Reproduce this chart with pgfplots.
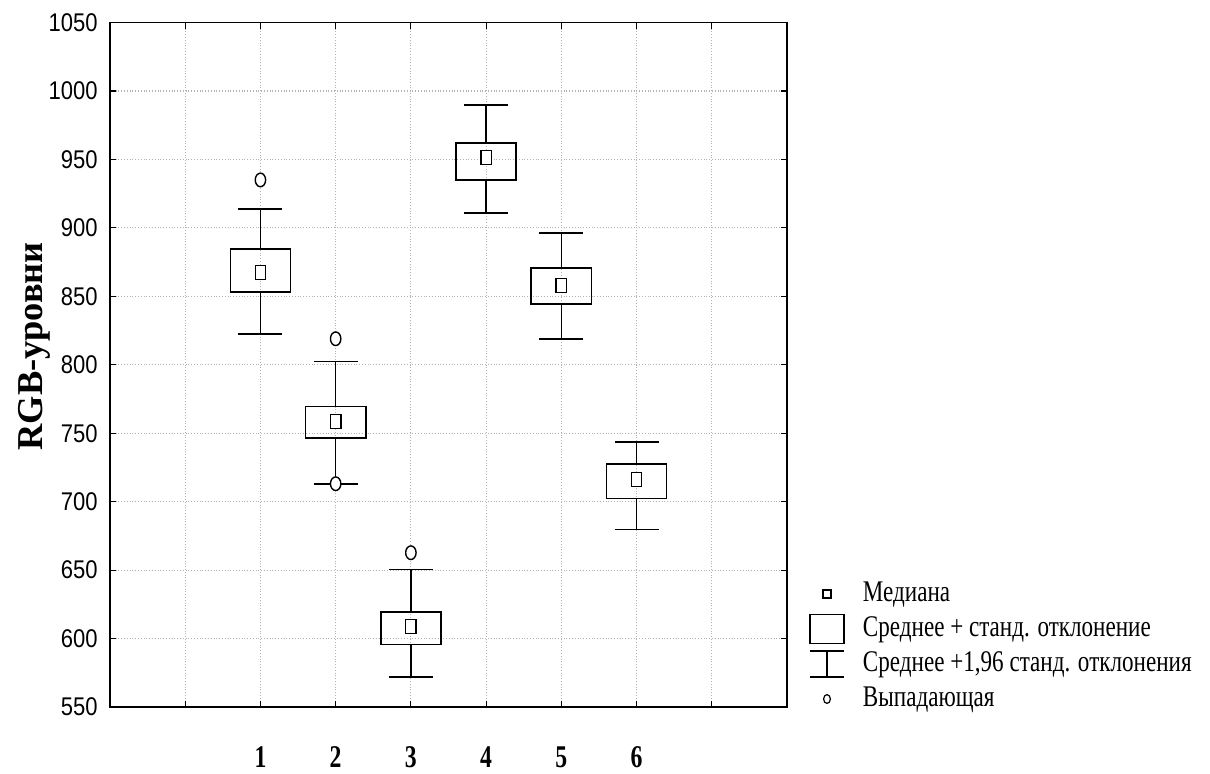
\documentclass[border=0pt]{standalone}
\usepackage{fontspec}
\setmainfont{Liberation Serif}
\newfontfamily\ytickfont[FakeStretch=0.86]{Liberation Sans}
\newfontfamily\xtickfont[FakeStretch=0.75]{Liberation Serif}
\newfontfamily\legendfont[FakeStretch=0.77]{Liberation Serif}
\usepackage{pgfplots}
\pgfplotsset{compat=1.18}
\usepgfplotslibrary{statistics}

% upright rectangle for the median, oval for an outlier
\pgfdeclareplotmark{medbox}{%
  \pgfpathrectangle{\pgfpoint{-2.6pt}{-3.5pt}}{\pgfpoint{5.2pt}{7pt}}%
  \pgfusepathqfillstroke}
\pgfdeclareplotmark{oval}{%
  \pgfpathellipse{\pgfpointorigin}{\pgfpoint{2.6pt}{0pt}}{\pgfpoint{0pt}{3.4pt}}%
  \pgfusepathqfillstroke}

% medians of the six groups
\pgfplotstableread{
x   med
1   867.4
2   758.6
3   608.9
4   951.6
5   857.9
6   716.1
}\medians

% outlying observations
\pgfplotstableread{
x   y
1   935.0
2   819.0
2   713.1
3   662.7
}\outliers

\pgfplotsset{
  boxstyle/.style={black, line width=0.8pt, forget plot,
    boxplot/draw direction=y,
    boxplot/draw/median/.code={},
    boxplot/box extend=0.8, boxplot/whisker extend=0.585},
}

\begin{document}
\begin{tikzpicture}
\begin{axis}[
  at={(0,0)}, anchor=south west,
  scale only axis,
  width=338.5pt, height=342.25pt,
  xmin=-1, xmax=8,
  ymin=550, ymax=1050,
  xtick={0,...,7},
  xticklabels={{},1,2,3,4,5,6,{}},
  ytick={550,600,...,1050},
  grid=major,
  major grid style={densely dotted, gray!60, line width=0.6pt},
  axis line style={line width=0.9pt},
  tick align=inside,
  major tick length=3pt,
  tick style={black, line width=0.6pt},
  /pgf/number format/assume math mode=true,
  /pgf/number format/1000 sep={},
  yticklabel style={font=\ytickfont\fontsize{12.8}{14}\selectfont, inner sep=0pt, xshift=-6pt},
  xticklabel style={font=\xtickfont\bfseries\fontsize{15.8}{17}\selectfont, inner sep=0pt, yshift=-19.5pt},
  ylabel={RGB-уровни},
  ylabel style={font=\bfseries\fontsize{18.2}{22}\selectfont,
    at={(rel axis cs:-0.1115,0.527)}, anchor=center},
  legend cell align=left,
  legend style={at={(rel axis cs:1,0.1855)}, anchor=north west, xshift=11.5pt,
    draw=none, fill=none, inner sep=0pt, outer sep=0pt,
    row sep=3.5pt, column sep=0pt,
    nodes={inner sep=0pt, text height=10.5pt, text depth=3.5pt},
    font=\legendfont\fontsize{15}{18}\selectfont},
]

% boxes: mean +- SD, whiskers: mean +- 1.96 SD
\addplot[boxstyle, boxplot prepared={draw position=1, lower whisker=822.6, lower quartile=853.1,
  median=867.4, upper quartile=884.4, upper whisker=913.6}] coordinates {};
\addplot[boxstyle, boxplot prepared={draw position=2, lower whisker=713.1, lower quartile=746.5,
  median=758.6, upper quartile=769.6, upper whisker=802.4}] coordinates {};
\addplot[boxstyle, boxplot prepared={draw position=3, lower whisker=571.8, lower quartile=595.6,
  median=608.9, upper quartile=619.5, upper whisker=650.4}] coordinates {};
\addplot[boxstyle, boxplot prepared={draw position=4, lower whisker=910.7, lower quartile=935.0,
  median=951.6, upper quartile=961.8, upper whisker=989.8}] coordinates {};
\addplot[boxstyle, boxplot prepared={draw position=5, lower whisker=818.8, lower quartile=844.3,
  median=857.9, upper quartile=870.6, upper whisker=896.1}] coordinates {};
\addplot[boxstyle, boxplot prepared={draw position=6, lower whisker=679.6, lower quartile=702.2,
  median=716.1, upper quartile=727.7, upper whisker=743.6}] coordinates {};

% medians
\addplot[only marks, forget plot, mark=medbox,
  mark options={draw=black, fill=white, line width=0.7pt}] table[x=x, y=med] {\medians};
% outliers
\addplot[only marks, forget plot, mark=oval,
  mark options={draw=black, fill=white, line width=0.7pt}] table[x=x, y=y] {\outliers};

% legend
\addlegendimage{legend image code/.code={
  \draw[black, line width=0.6pt, overlay] (6.5pt,-2pt) rectangle (10.5pt,2pt);
  \path[draw=none, fill=none] (0pt,0pt) -- (26.5pt,0pt);}}
\addlegendentry{Медиана}
\addlegendimage{legend image code/.code={
  \draw[black, line width=0.8pt, overlay] (0pt,-7.25pt) rectangle (17pt,7.25pt);
  \path[draw=none, fill=none] (0pt,0pt) -- (26.5pt,0pt);}}
\addlegendentry{Среднее + станд. отклонение}
\addlegendimage{legend image code/.code={
  \draw[black, line width=0.8pt, overlay] (0pt,6.5pt) -- (17pt,6.5pt)
     (8.5pt,6.5pt) -- (8.5pt,-6.5pt) (0pt,-6.5pt) -- (17pt,-6.5pt);
  \path[draw=none, fill=none] (0pt,0pt) -- (26.5pt,0pt);}}
\addlegendentry{Среднее +1,96 станд. отклонения}
\addlegendimage{legend image code/.code={
  \draw[black, line width=0.6pt, overlay] (8.5pt,0pt) ellipse[x radius=1.7pt, y radius=2.2pt];
  \path[draw=none, fill=none] (0pt,0pt) -- (26.5pt,0pt);}}
\addlegendentry{Выпадающая}
\end{axis}
\pgfresetboundingbox
\path (-55pt,-33pt) rectangle (550pt,353.5pt);
\end{tikzpicture}
\end{document}
